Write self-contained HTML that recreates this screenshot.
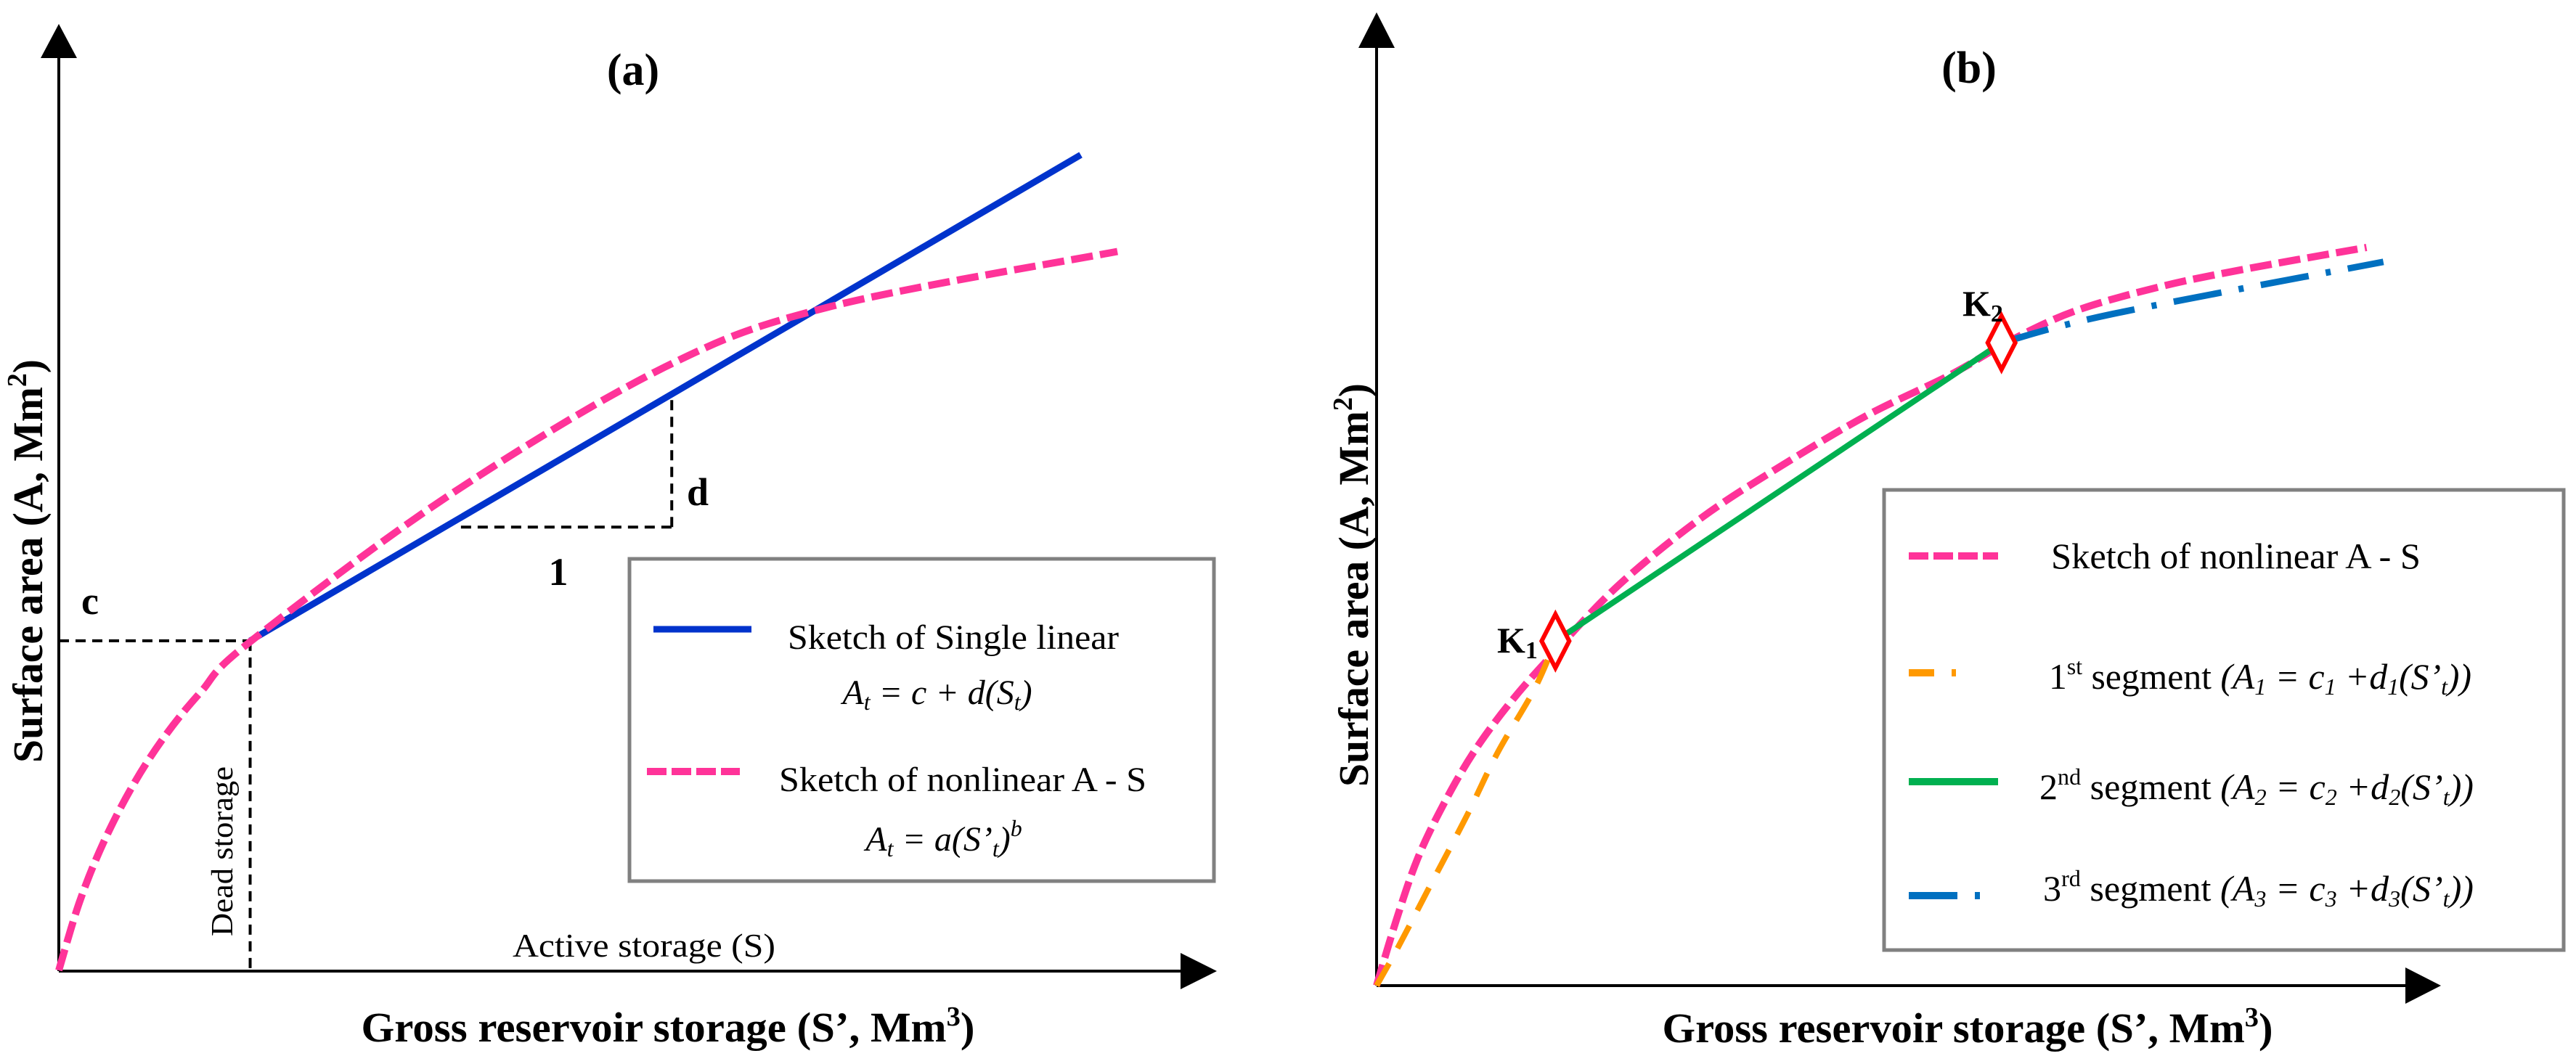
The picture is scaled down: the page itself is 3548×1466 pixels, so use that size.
<!DOCTYPE html>
<html><head><meta charset="utf-8">
<style>
html,body{margin:0;padding:0;background:#fff;}
svg{display:block;font-family:"Liberation Serif",serif;}
</style></head>
<body>
<svg id="fig" width="3548" height="1466" viewBox="0 0 3548 1466" xmlns="http://www.w3.org/2000/svg">
<rect x="0" y="0" width="3548" height="1466" fill="#fff"/>

<g id="panelA">
  <line x1="81" y1="1338" x2="81" y2="70" stroke="#000" stroke-width="4"/>
  <polygon points="81,33 56,80 106,80" fill="#000"/>
  <line x1="81" y1="1338" x2="1630" y2="1338" stroke="#000" stroke-width="4"/>
  <polygon points="1676,1338 1626,1313 1626,1363" fill="#000"/>
  <text x="872" y="117" font-size="62" font-weight="bold" text-anchor="middle">(a)</text>
  <text transform="translate(58,773) rotate(-90)" font-size="58" font-weight="bold" text-anchor="middle" textLength="556" lengthAdjust="spacingAndGlyphs">Surface area (A, Mm<tspan font-size="38" dy="-22">2</tspan><tspan dy="22">)</tspan></text>
  <text x="920" y="1435" font-size="58" font-weight="bold" text-anchor="middle" textLength="845" lengthAdjust="spacingAndGlyphs">Gross reservoir storage (S’, Mm<tspan font-size="38" dy="-22">3</tspan><tspan dy="22">)</tspan></text>
  <text x="887" y="1318" font-size="46" text-anchor="middle" textLength="362" lengthAdjust="spacingAndGlyphs">Active storage (S)</text>
  <text transform="translate(320,1173) rotate(-90)" font-size="42" text-anchor="middle" textLength="234" lengthAdjust="spacingAndGlyphs">Dead storage</text>
  <text x="124" y="846" font-size="54" font-weight="bold" text-anchor="middle">c</text>
  <text x="961" y="696" font-size="54" font-weight="bold" text-anchor="middle">d</text>
  <text x="769" y="806" font-size="54" font-weight="bold" text-anchor="middle">1</text>
</g>

<g id="panelB">
  <line x1="1896" y1="1358" x2="1896" y2="60" stroke="#000" stroke-width="4"/>
  <polygon points="1896,17 1871,66 1921,66" fill="#000"/>
  <line x1="1896" y1="1358" x2="3318" y2="1358" stroke="#000" stroke-width="4"/>
  <polygon points="3362,1358 3313,1333 3313,1383" fill="#000"/>
  <text x="2712" y="114" font-size="62" font-weight="bold" text-anchor="middle">(b)</text>
  <text transform="translate(1884,806) rotate(-90)" font-size="58" font-weight="bold" text-anchor="middle" textLength="556" lengthAdjust="spacingAndGlyphs">Surface area (A, Mm<tspan font-size="38" dy="-22">2</tspan><tspan dy="22">)</tspan></text>
  <text x="2710" y="1436" font-size="58" font-weight="bold" text-anchor="middle" textLength="841" lengthAdjust="spacingAndGlyphs">Gross reservoir storage (S’, Mm<tspan font-size="38" dy="-22">3</tspan><tspan dy="22">)</tspan></text>
</g>

<g>
  <rect x="867" y="770" width="805" height="444" fill="#fff" stroke="#808080" stroke-width="5"/>
  <line x1="900" y1="867" x2="1035" y2="867" stroke="#0033cc" stroke-width="9"/>
  <text x="1085" y="894" font-size="48" textLength="456" lengthAdjust="spacingAndGlyphs">Sketch of Single linear</text>
  <text x="1291" y="970" font-size="48" font-style="italic" text-anchor="middle">A<tspan font-size="32" dy="8">t</tspan><tspan dy="-8"> = c + d(S</tspan><tspan font-size="32" dy="8">t</tspan><tspan dy="-8">)</tspan></text>
  <line x1="891" y1="1063" x2="1019" y2="1063" stroke="#ff3399" stroke-width="10" stroke-dasharray="27 7"/>
  <text x="1073" y="1090" font-size="48" textLength="506" lengthAdjust="spacingAndGlyphs">Sketch of nonlinear A - S</text>
  <text x="1300" y="1172" font-size="48" font-style="italic" text-anchor="middle">A<tspan font-size="32" dy="8">t</tspan><tspan dy="-8"> = a(S’</tspan><tspan font-size="32" dy="8">t</tspan><tspan dy="-8">)</tspan><tspan font-size="32" dy="-20">b</tspan></text>
</g>

<g>
  <rect x="2595" y="675" width="936" height="634" fill="#fff" stroke="#808080" stroke-width="5"/>
  <line x1="2629" y1="766" x2="2752" y2="766" stroke="#ff3399" stroke-width="10" stroke-dasharray="27 7"/>
  <text x="2825" y="783" font-size="50" textLength="509" lengthAdjust="spacingAndGlyphs">Sketch of nonlinear A - S</text>
  <line x1="2629" y1="927" x2="2752" y2="927" stroke="#ff9900" stroke-width="10" stroke-dasharray="35 24 6 60"/>
  <text x="2822" y="949" font-size="50" textLength="582" lengthAdjust="spacingAndGlyphs">1<tspan font-size="32" dy="-20">st</tspan><tspan dy="20"> segment </tspan><tspan font-style="italic">(A</tspan><tspan font-style="italic" font-size="32" dy="8">1</tspan><tspan font-style="italic" dy="-8"> = c</tspan><tspan font-style="italic" font-size="32" dy="8">1</tspan><tspan font-style="italic" dy="-8"> +d</tspan><tspan font-style="italic" font-size="32" dy="8">1</tspan><tspan font-style="italic" dy="-8">(S’</tspan><tspan font-style="italic" font-size="32" dy="8">t</tspan><tspan font-style="italic" dy="-8">))</tspan></text>
  <line x1="2629" y1="1077" x2="2752" y2="1077" stroke="#00b050" stroke-width="10"/>
  <text x="2809" y="1101" font-size="50" textLength="598" lengthAdjust="spacingAndGlyphs">2<tspan font-size="32" dy="-20">nd</tspan><tspan dy="20"> segment </tspan><tspan font-style="italic">(A</tspan><tspan font-style="italic" font-size="32" dy="8">2</tspan><tspan font-style="italic" dy="-8"> = c</tspan><tspan font-style="italic" font-size="32" dy="8">2</tspan><tspan font-style="italic" dy="-8"> +d</tspan><tspan font-style="italic" font-size="32" dy="8">2</tspan><tspan font-style="italic" dy="-8">(S’</tspan><tspan font-style="italic" font-size="32" dy="8">t</tspan><tspan font-style="italic" dy="-8">))</tspan></text>
  <line x1="2629" y1="1234" x2="2730" y2="1234" stroke="#0070c0" stroke-width="10" stroke-dasharray="67 24 7 100"/>
  <text x="2814" y="1241" font-size="50" textLength="593" lengthAdjust="spacingAndGlyphs">3<tspan font-size="32" dy="-20">rd</tspan><tspan dy="20"> segment </tspan><tspan font-style="italic">(A</tspan><tspan font-style="italic" font-size="32" dy="8">3</tspan><tspan font-style="italic" dy="-8"> = c</tspan><tspan font-style="italic" font-size="32" dy="8">3</tspan><tspan font-style="italic" dy="-8"> +d</tspan><tspan font-style="italic" font-size="32" dy="8">3</tspan><tspan font-style="italic" dy="-8">(S’</tspan><tspan font-style="italic" font-size="32" dy="8">t</tspan><tspan font-style="italic" dy="-8">))</tspan></text>
</g>

<g id="marksA"></g>
<g id="marksB"></g>
<g id="kLabels">
  <text x="2062" y="899" font-size="50" font-weight="bold">K<tspan font-size="34" dy="8">1</tspan></text>
  <text x="2703" y="435" font-size="50" font-weight="bold">K<tspan font-size="34" dy="8">2</tspan></text>
</g>
</svg>
<script>
// ---- Panel A data (arbitrary units, 0..100) ----
const pinkAX = [0, 1.8, 3.9, 6.5, 9.3, 12.4, 16.6, 34.0, 52.9, 67.4, 92.4];
const pinkAY = [0, 7.2, 13.5, 19.6, 24.8, 29.4, 34.6, 50.1, 63.7, 70.1, 75.9];
const linearAX = [16.7, 89.2];
const linearAY = [34.8, 86.1];
const deadStorageX = [16.7];
const deadStorageY = [34.8];
const slopeRunX = [35.1, 53.5];
const slopeRiseY = [46.8];
// ---- Panel B data ----
const pinkBX = [0, 1.9, 3.9, 6.3, 9.2, 12.7, 16.8, 23.1, 31.0, 38.9, 46.7, 54.6, 60.2, 66.4, 74.4, 82.3, 94.1];
const pinkBY = [0, 6.9, 13.2, 18.7, 24.2, 29.4, 34.5, 41.7, 48.7, 54.3, 59.3, 63.5, 67.0, 70.1, 72.6, 74.4, 76.7];
const seg1X = [0, 2.1, 5.1, 8.6, 11.5, 15.0, 17.0];
const seg1Y = [0, 4.1, 10.4, 17.7, 24.2, 30.8, 35.8];
const seg2X = [17.0, 59.4];
const seg2Y = [35.8, 66.8];
const seg3X = [59.4, 70.0, 95.7];
const seg3Y = [66.8, 69.8, 75.2];
const knotX = [17.0, 59.4];
const knotY = [35.8, 66.8];

const NS = "http://www.w3.org/2000/svg";
function scale(d0, d1, r0, r1){ return v => r0 + (v - d0) / (d1 - d0) * (r1 - r0); }
const axA = scale(0, 100, 81, 1659), ayA = scale(0, 100, 1337, 32);
const axB = scale(0, 100, 1896, 3345), ayB = scale(0, 100, 1358, 32);

function smoothPath(xs, ys, fx, fy){
  const p = xs.map((x,i)=>[fx(x), fy(ys[i])]);
  let d = "M" + p[0][0] + "," + p[0][1];
  for (let i=0;i<p.length-1;i++){
    const p0=p[Math.max(0,i-1)], p1=p[i], p2=p[i+1], p3=p[Math.min(p.length-1,i+2)];
    const c1=[p1[0]+(p2[0]-p0[0])/6, p1[1]+(p2[1]-p0[1])/6];
    const c2=[p2[0]-(p3[0]-p1[0])/6, p2[1]-(p3[1]-p1[1])/6];
    d += " C"+c1[0]+","+c1[1]+" "+c2[0]+","+c2[1]+" "+p2[0]+","+p2[1];
  }
  return d;
}
function mkPath(parent, d, stroke, w, dash){
  const el = document.createElementNS(NS, "path");
  el.setAttribute("d", d);
  el.setAttribute("fill", "none");
  el.setAttribute("stroke", stroke);
  el.setAttribute("stroke-width", w);
  if (dash) el.setAttribute("stroke-dasharray", dash);
  parent.appendChild(el);
  return el;
}
function mkLine(parent, x1, y1, x2, y2){
  const el = document.createElementNS(NS, "line");
  el.setAttribute("x1", x1); el.setAttribute("y1", y1);
  el.setAttribute("x2", x2); el.setAttribute("y2", y2);
  el.setAttribute("stroke", "#000");
  el.setAttribute("stroke-width", 4);
  el.setAttribute("stroke-dasharray", "14 9");
  parent.appendChild(el);
  return el;
}

const gA = document.getElementById("marksA");
const gh = mkLine(gA, axA(0), ayA(deadStorageY[0]), axA(deadStorageX[0]), ayA(deadStorageY[0]));


const gv = mkLine(gA, axA(deadStorageX[0]), ayA(deadStorageY[0]), axA(deadStorageX[0]), ayA(0));


const slopeY = ayA(slopeRiseY[0]);
const runEnd = axA(slopeRunX[1]);
const lineAt = ayA(linearAY[0] + (slopeRunX[1]-linearAX[0])*(linearAY[1]-linearAY[0])/(linearAX[1]-linearAX[0]));
const sr = mkLine(gA, axA(slopeRunX[0]), slopeY, runEnd, slopeY);


const sv = mkLine(gA, runEnd, slopeY, runEnd, lineAt);



const linA = mkPath(gA, "M"+axA(linearAX[0])+","+ayA(linearAY[0])+" L"+axA(linearAX[1])+","+ayA(linearAY[1]), "#0033cc", 9);


const pA = mkPath(gA, smoothPath(pinkAX, pinkAY, axA, ayA), "#ff3399", 10, "30 10");



const gB = document.getElementById("marksB");
const pB = mkPath(gB, smoothPath(pinkBX, pinkBY, axB, ayB), "#ff3399", 10, "30 10");


const s1 = mkPath(gB, smoothPath(seg1X, seg1Y, axB, ayB), "#ff9900", 8, "35 24");


const s2 = mkPath(gB, "M"+axB(seg2X[0])+","+ayB(seg2Y[0])+" L"+axB(seg2X[1])+","+ayB(seg2Y[1]), "#00b050", 8);


const s3 = mkPath(gB, smoothPath(seg3X, seg3Y, axB, ayB), "#0070c0", 9, "67 24 7 24");



for (let i=0;i<knotX.length;i++){
  const cx = axB(knotX[i]), cy = ayB(knotY[i]);
  const el = document.createElementNS(NS, "polygon");
  el.setAttribute("points", cx+","+(cy-37)+" "+(cx+19)+","+cy+" "+cx+","+(cy+37)+" "+(cx-19)+","+cy);
  el.setAttribute("fill", "#fff");
  el.setAttribute("stroke", "#ff0000");
  el.setAttribute("stroke-width", 6);
  
  
  gB.appendChild(el);
}
</script>
</body></html>
